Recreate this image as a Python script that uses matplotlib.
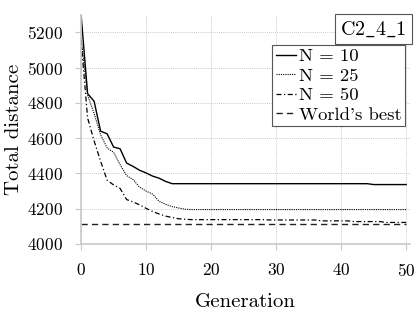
#!/usr/bin/python
""" Convergence of total distance over generations for C2_4_1 """
import matplotlib
matplotlib.use('Agg')
import matplotlib.pyplot as plt

plt.rcParams['font.family'] = ['cmr10', 'DejaVu Serif']
plt.rcParams['mathtext.fontset'] = 'cm'
plt.rcParams['axes.formatter.use_mathtext'] = True

instance = r'$\mathrm{C2\_4\_1}$'
generations = list(range(51))

# best total distance per generation, one list per population size
n10 = [5300, 4853, 4810, 4640, 4625, 4550, 4540, 4459, 4440, 4418,
       4403, 4385, 4373, 4355, 4342, 4342, 4342, 4342, 4342, 4342,
       4342, 4342, 4342, 4342, 4342, 4342, 4342, 4342, 4342, 4342,
       4342, 4342, 4342, 4342, 4342, 4342, 4342, 4342, 4342, 4342,
       4342, 4342, 4342, 4342, 4342, 4337, 4337, 4337, 4337, 4337,
       4337]
n25 = [5170, 4845, 4740, 4620, 4545, 4520, 4450, 4388, 4365, 4322,
       4300, 4283, 4242, 4225, 4212, 4204, 4197, 4195, 4195, 4195,
       4195, 4195, 4195, 4195, 4195, 4195, 4195, 4195, 4195, 4195,
       4195, 4195, 4195, 4195, 4195, 4195, 4195, 4195, 4195, 4195,
       4195, 4195, 4195, 4195, 4195, 4195, 4195, 4195, 4195, 4195,
       4195]
n50 = [5155, 4715, 4585, 4470, 4362, 4335, 4315, 4252, 4238, 4222,
       4202, 4184, 4170, 4158, 4150, 4143, 4140, 4138, 4138, 4138,
       4138, 4138, 4138, 4138, 4138, 4138, 4138, 4138, 4138, 4136,
       4136, 4136, 4136, 4136, 4136, 4136, 4136, 4131, 4131, 4131,
       4131, 4131, 4127, 4127, 4127, 4127, 4127, 4122, 4122, 4122,
       4122]
worlds_best = 4116

x_ticks = [0, 10, 20, 30, 40, 50]
y_ticks = [4000, 4200, 4400, 4600, 4800, 5000, 5200]

fig = plt.figure(figsize=(4.18, 3.16), dpi=100)
ax = fig.add_axes([0.194, 0.228, 0.787, 0.725])

ax.plot(generations, n10, color='black', lw=1.0, label='N = 10')
ax.plot(generations, n25, color='black', lw=0.8, ls=(0, (1, 1)),
        label='N = 25')
ax.plot(generations, n50, color='black', lw=0.9, ls=(0, (4, 2, 1, 2)),
        label='N = 50')
ax.plot([generations[0], generations[-1]], [worlds_best, worlds_best],
        color='#222222', lw=1.0, ls=(0, (4.5, 3)), label="World's best")

ax.set_xlim(0, 50.6)
ax.set_ylim(4000, 5300)
ax.set_xticks(x_ticks)
ax.set_yticks(y_ticks)

for side in ['top', 'right']:
    ax.spines[side].set_visible(False)
for side in ['left', 'bottom']:
    ax.spines[side].set_color('#c8c8c8')
    ax.spines[side].set_linewidth(1.2)
ax.tick_params(direction='out', length=4, width=0.8, color='#c8c8c8',
               labelsize=12.5, pad=9)
ax.grid(True, color='#b8b8b8', ls=(0, (1, 1.5)), lw=0.6)
ax.set_axisbelow(True)

ax.set_xlabel('Generation', fontsize=15, labelpad=10)
ax.set_ylabel('Total distance', fontsize=15, labelpad=3)

leg = ax.legend(loc='upper right', bbox_to_anchor=(1.0, 0.89),
                fontsize=13.4, handlelength=1.1, handletextpad=0.15,
                labelspacing=0.18, borderpad=0.2, borderaxespad=0.25,
                fancybox=False, framealpha=1, edgecolor='#555555')
leg.get_frame().set_linewidth(0.8)

ax.text(0.99, 0.98, instance, transform=ax.transAxes, ha='right', va='top',
        fontsize=14.5, bbox=dict(boxstyle='square,pad=0.25', fc='white',
                                 ec='#555555', lw=0.8))

plt.savefig('out.png', dpi=100)
